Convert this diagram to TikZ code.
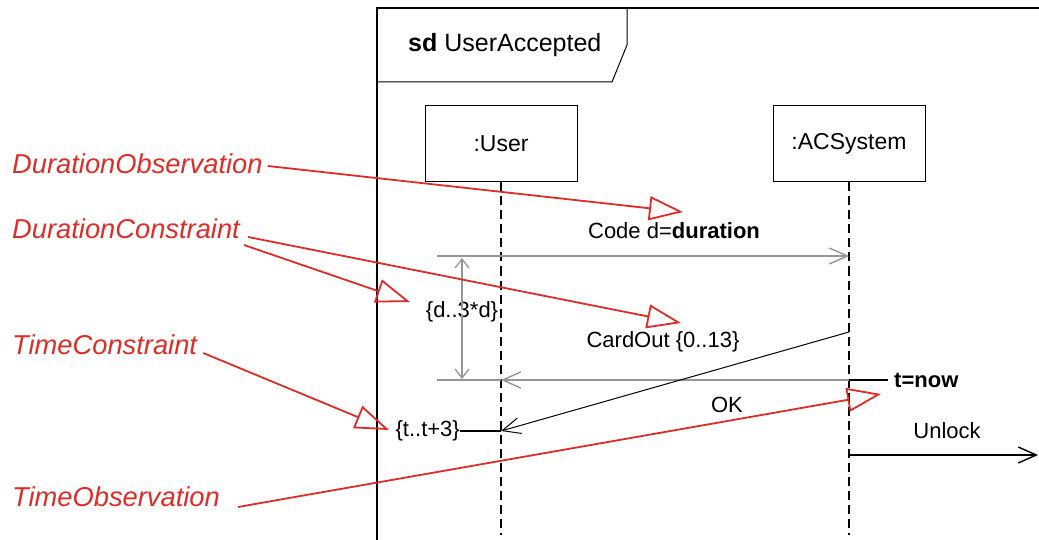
\documentclass[tikz,border=0pt]{standalone}
\usepackage{fontspec}
\setmainfont{Liberation Sans}
\usetikzlibrary{arrows.meta}
\definecolor{annot}{RGB}{222,45,40}
\definecolor{msggray}{RGB}{150,150,150}
\tikzset{
  x=1pt, y=-1pt,
  lbl/.style={font=\fontsize{22}{25}\selectfont, inner sep=0pt},
  note/.style={font=\fontsize{27.3}{31}\selectfont\itshape, text=annot, inner sep=0pt, anchor=west},
  lifebox/.style={draw, line width=1pt, minimum width=152pt, minimum height=76pt, font=\fontsize{23}{26}\selectfont},
  lifeline/.style={line width=1.2pt, dash pattern=on 9pt off 5pt},
  msg/.style={draw=msggray, line width=2pt},
  barb/.style={-{Straight Barb[length=18pt,width=16pt,line width=1.4pt]}},
  pointer/.style={draw=annot, line width=1.8pt, -{Triangle[open,length=34pt,width=24pt,line width=1.8pt]}},
}
\begin{document}
\begin{tikzpicture}
\useasboundingbox[fill=white] (0,0) rectangle (1039,540);

% interaction frame and its name tab
\draw[line width=1.2pt] (377,545) -- (377,8) -- (1045,8);
\draw[line width=1pt] (377,82) -- (612,82) -- (627,45) -- (627,8);
\node[lbl, font=\fontsize{25}{28}\selectfont, anchor=west] (tab) at (408,45) {\textbf{sd} UserAccepted};

% lifelines
\node[lifebox] (user) at (501,144) {:User};
\node[lifebox] (acs) at (849,144) {:ACSystem};
\coordinate (userEnd) at (501,535);
\coordinate (acsEnd) at (849,535);
\draw[lifeline] (user.south) -- (userEnd);
\draw[lifeline] (acs.south) -- (acsEnd);

% Code message
\coordinate (codeL) at (437,256);
\coordinate (codeR) at (849,256);
\draw[msg, barb] (codeL) -- (codeR);
\node[lbl] (code) at (674,231) {Code d=\textbf{duration}};

% CardOut message
\coordinate (cardL) at (437,380);
\coordinate (cardU) at (501,380);
\coordinate (cardR) at (849,380);
\draw[msg] (cardL) -- (cardU);
\draw[msg, barb] (cardR) -- (cardU);
\node[lbl] (cardout) at (663,342) {CardOut \{0..13\}};

% duration constraint between the two messages
\node[lbl] (dur) at (462,312) {\{d..3*d\}};
\coordinate (durTop) at (462,258);
\coordinate (durBot) at (462,379);
\draw[msg, line width=1.5pt, -{Straight Barb[length=9pt,width=14pt,line width=1.3pt]}] ([yshift=-8pt]dur.north) -- (durTop);
\draw[msg, line width=1.5pt, -{Straight Barb[length=9pt,width=14pt,line width=1.3pt]}] ([yshift=8pt]dur.south) -- (durBot);

% OK message
\coordinate (okS) at (849,332);
\coordinate (okT) at (501,431);
\draw[line width=1pt, -{Straight Barb[length=18pt,width=16pt,line width=1pt]}] (okS) -- (okT);
\node[lbl] (ok) at (727,405) {OK};

% time observation
\coordinate (nowEnd) at (888,380);
\draw[line width=1.4pt] (cardR) -- (nowEnd);
\node[lbl, anchor=west] (now) at (894,380) {\textbf{t=now}};

% time constraint
\node[lbl, anchor=east] (tc) at (460,431) {\{t..t+3\}};
\draw[line width=1.4pt] (tc.east) -- (okT);

% Unlock message
\coordinate (unlS) at (849,455);
\coordinate (unlT) at (1038,455);
\draw[line width=1.4pt, barb] (unlS) -- (unlT);
\node[lbl] (unlock) at (947,431) {Unlock};

% annotations
\node[note] (nDO) at (12,164) {DurationObservation};
\node[note] (nDC) at (12,229) {DurationConstraint};
\node[note] (nTC) at (12,345) {TimeConstraint};
\node[note] (nTO) at (12,497) {TimeObservation};

\coordinate (tDO) at (683,212);
\coordinate (tDC1) at (681,323);
\coordinate (tDC2) at (410,302);
\coordinate (tTC) at (389,430);
\coordinate (tTO) at (881,394);

\draw[pointer] ([xshift=5pt,yshift=-2pt]nDO.east) -- (tDO);
\draw[pointer] ([xshift=8pt,yshift=-8pt]nDC.east) -- (tDC1);
\draw[pointer] ([xshift=4pt,yshift=-16pt]nDC.east) -- (tDC2);
\draw[pointer] ([xshift=6pt,yshift=-8pt]nTC.east) -- (tTC);
\draw[pointer] ([xshift=18pt,yshift=-10pt]nTO.east) -- (tTO);
\end{tikzpicture}
\end{document}
